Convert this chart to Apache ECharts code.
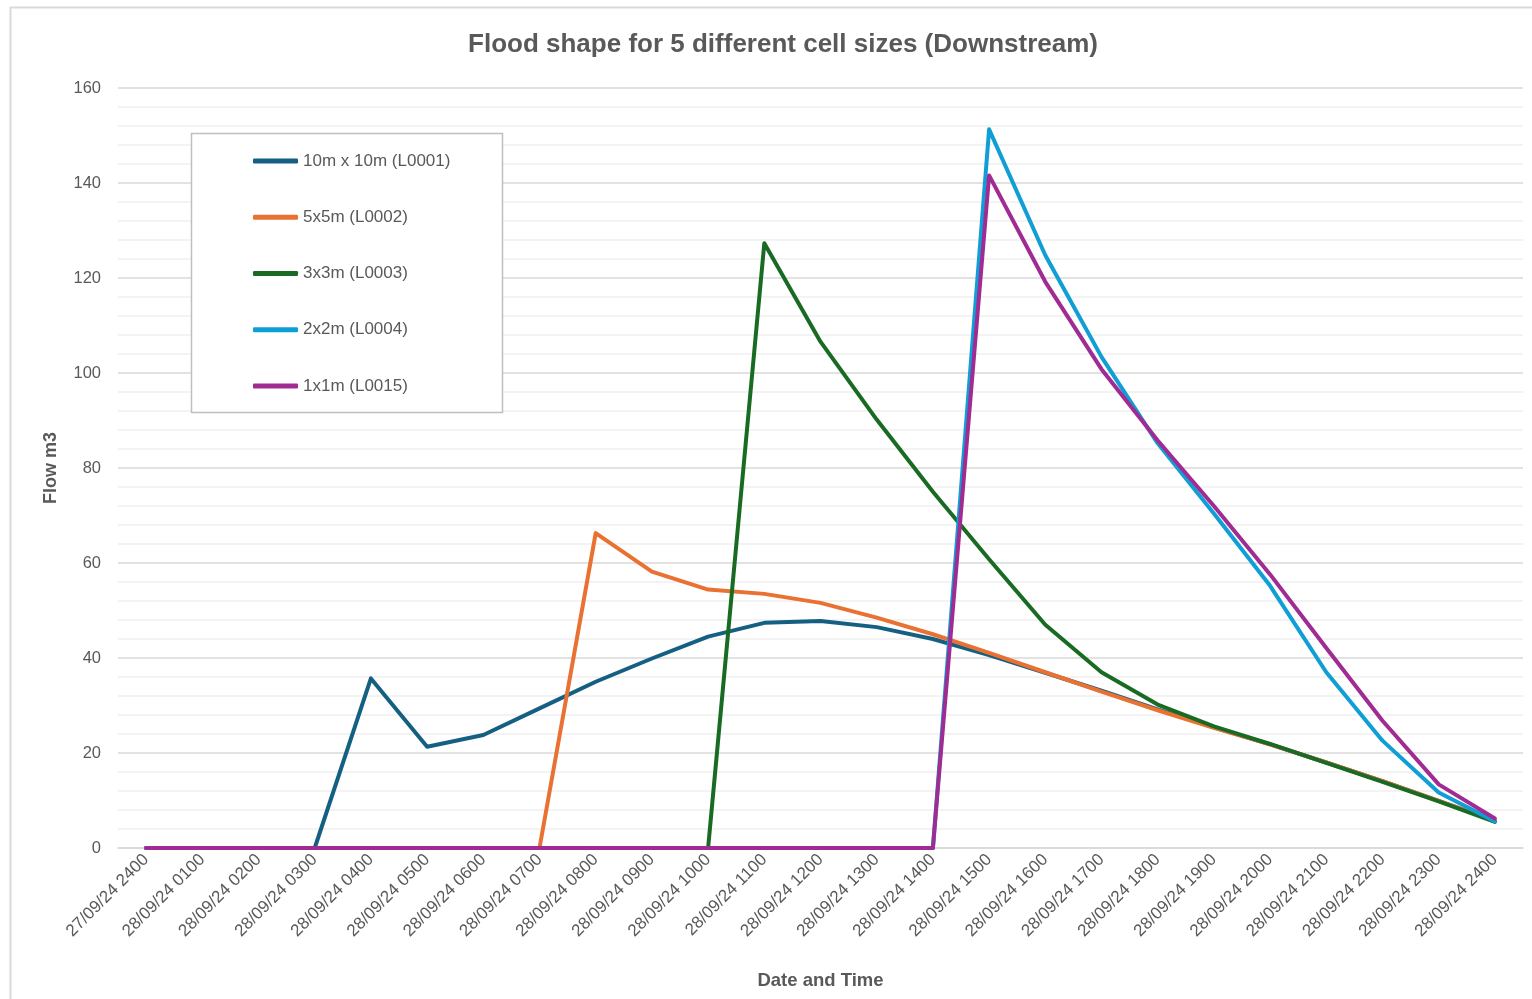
<!DOCTYPE html>
<html>
<head>
<meta charset="utf-8">
<script src="https://cdn.jsdelivr.net/npm/echarts@6/dist/echarts.min.js"></script>
<style>
  html, body { margin: 0; padding: 0; background: #ffffff; }
  #chart { width: 1532px; height: 999px; }
</style>
</head>
<body>
<div id="chart"></div>
<script>
// Hourly time stamps along the x axis
const timeLabels = [
  '27/09/24 2400', '28/09/24 0100', '28/09/24 0200', '28/09/24 0300', '28/09/24 0400',
  '28/09/24 0500', '28/09/24 0600', '28/09/24 0700', '28/09/24 0800', '28/09/24 0900',
  '28/09/24 1000', '28/09/24 1100', '28/09/24 1200', '28/09/24 1300', '28/09/24 1400',
  '28/09/24 1500', '28/09/24 1600', '28/09/24 1700', '28/09/24 1800', '28/09/24 1900',
  '28/09/24 2000', '28/09/24 2100', '28/09/24 2200', '28/09/24 2300', '28/09/24 2400'
];

// Downstream flow (m3) for each cell size
const flow10m = [0, 0, 0, 0, 35.7, 21.3, 23.8, 29.4, 35.0, 39.9, 44.5, 47.4, 47.8, 46.5, 44.0, 40.6, 36.9, 33.1, 29.2, 25.4, 21.8, 18.0, 14.1, 9.9, 5.7];
const flow5m  = [0, 0, 0, 0, 0, 0, 0, 0, 66.3, 58.2, 54.4, 53.5, 51.6, 48.5, 45.0, 41.1, 37.0, 32.9, 29.0, 25.3, 21.8, 18.0, 14.1, 9.9, 5.7];
const flow3m  = [0, 0, 0, 0, 0, 0, 0, 0, 0, 0, 0, 127.3, 106.6, 90.2, 75.0, 60.8, 47.0, 37.0, 30.2, 25.6, 21.9, 17.9, 13.9, 9.8, 5.5];
const flow2m  = [0, 0, 0, 0, 0, 0, 0, 0, 0, 0, 0, 0, 0, 0, 0, 151.3, 124.8, 103.4, 85.2, 70.4, 55.2, 37.0, 22.6, 11.7, 5.6];
const flow1m  = [0, 0, 0, 0, 0, 0, 0, 0, 0, 0, 0, 0, 0, 0, 0, 141.6, 119.2, 100.8, 85.8, 72.0, 57.6, 42.1, 26.8, 13.4, 6.2];

const seriesNames = ['10m x 10m (L0001)', '5x5m (L0002)', '3x3m (L0003)', '2x2m (L0004)', '1x1m (L0015)'];
const seriesColors = ['#156082', '#E97132', '#196B24', '#0F9ED5', '#A02B93'];
const seriesData = [flow10m, flow5m, flow3m, flow2m, flow1m];

const textGrey = '#595959';
const font = '"Liberation Sans", Arial, sans-serif';

const chart = echarts.init(document.getElementById('chart'), null, { renderer: 'canvas' });

chart.setOption({
  backgroundColor: '#ffffff',
  animation: false,
  title: {
    text: 'Flood shape for 5 different cell sizes (Downstream)',
    left: 778,
    textAlign: 'center',
    top: 27,
    textStyle: { color: textGrey, fontSize: 26, fontWeight: 'bold', fontFamily: font }
  },
  graphic: [
    {
      type: 'rect',
      silent: true,
      shape: { x: 10.5, y: 7.5, width: 1560, height: 1040 },
      style: { fill: 'none', stroke: '#d9d9d9', lineWidth: 2 },
      z: -1
    },
    {
      type: 'rect',
      silent: true,
      shape: { x: 191.5, y: 133.5, width: 311, height: 279 },
      style: { fill: '#ffffff', stroke: '#bfbfbf', lineWidth: 1.5 },
      z: 10
    }
  ],
  legend: {
    orient: 'vertical',
    left: 253,
    top: 152,
    padding: 0,
    itemGap: 38.25,
    itemWidth: 45,
    itemHeight: 5,
    itemTextGap: 3,
    icon: 'roundRect',
    z: 11,
    textStyle: { color: textGrey, fontSize: 17, lineHeight: 18, fontFamily: font },
    data: seriesNames
  },
  grid: { left: 118, right: 9, top: 88, bottom: 151, containLabel: false },
  xAxis: {
    type: 'category',
    data: timeLabels,
    boundaryGap: true,
    name: 'Date and Time',
    nameLocation: 'middle',
    nameGap: 123,
    nameTextStyle: { color: textGrey, fontSize: 18.5, fontWeight: 'bold', fontFamily: font },
    axisLine: { show: true, lineStyle: { color: '#d9d9d9', width: 1.5 } },
    axisTick: { show: false },
    axisLabel: {
      interval: 0,
      rotate: 45,
      margin: 9,
      color: textGrey,
      fontSize: 17,
      fontFamily: font
    }
  },
  yAxis: {
    type: 'value',
    min: 0,
    max: 160,
    interval: 20,
    name: 'Flow m3',
    nameLocation: 'middle',
    nameGap: 58,
    nameRotate: 90,
    nameTextStyle: { color: textGrey, fontSize: 18, fontWeight: 'bold', fontFamily: font },
    axisLine: { show: false },
    axisTick: { show: false },
    axisLabel: { color: textGrey, fontSize: 16.5, margin: 17, fontFamily: font },
    splitLine: { show: true, lineStyle: { color: '#d9d9d9', width: 1.5 } },
    minorTick: { show: false, splitNumber: 5 },
    minorSplitLine: { show: true, lineStyle: { color: '#f0f0f0', width: 1.5 } }
  },
  series: seriesNames.map((name, i) => ({
    name: name,
    type: 'line',
    data: seriesData[i],
    showSymbol: false,
    symbol: 'none',
    color: seriesColors[i],
    lineStyle: { color: seriesColors[i], width: 4, cap: 'round', join: 'round' },
    z: 2 + i
  }))
});
</script>
</body>
</html>
